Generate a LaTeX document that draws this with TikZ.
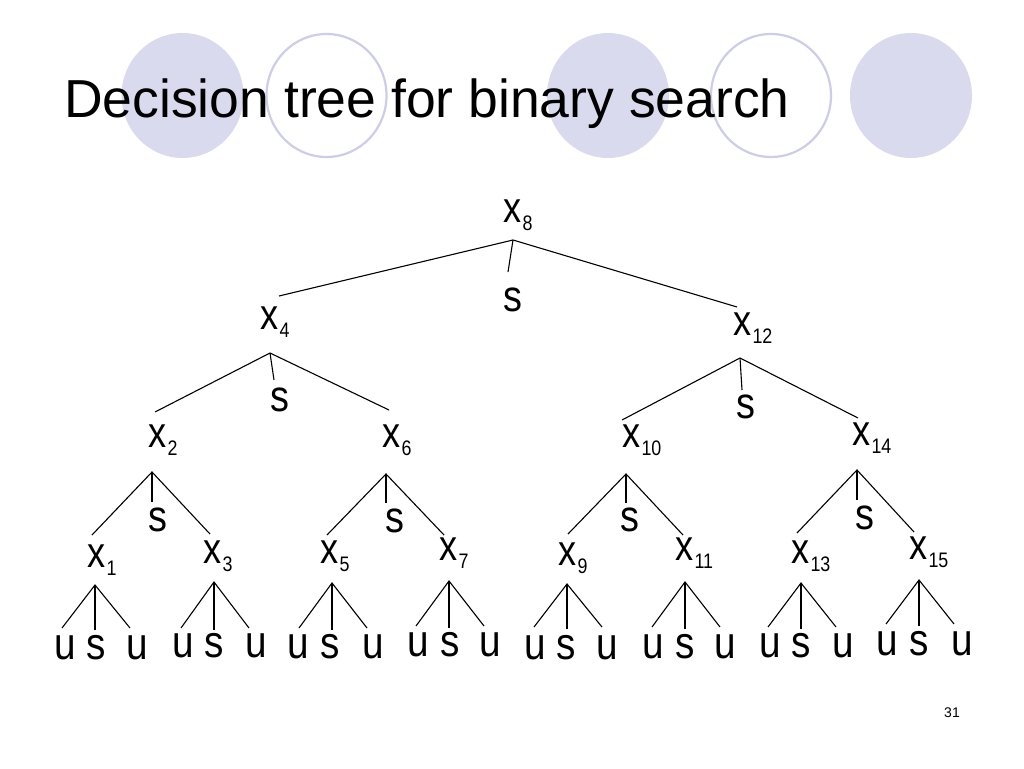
\documentclass[tikz,border=0pt]{standalone}
\usepackage{graphicx}
\usepackage{fontspec}
\setmainfont{Liberation Sans}
\definecolor{lav}{RGB}{218,218,238}
\definecolor{lavline}{RGB}{205,205,232}
\newcommand{\xsub}[1]{\scalebox{0.84}[1]{x}\rlap{\kern0.5pt\raisebox{-8pt}{\scalebox{0.85}[1]{\fontsize{21}{21}\selectfont #1}}}}
\newcommand{\nar}[1]{\scalebox{0.86}[1]{#1}}
\begin{document}
\begin{tikzpicture}[x=1pt,y=-1pt,
  xn/.style={inner sep=0pt,font=\fontsize{43}{43}\selectfont},
  sn/.style={inner sep=0pt,font=\fontsize{44}{44}\selectfont},
  ln/.style={inner sep=0pt,font=\fontsize{45}{45}\selectfont},
  edge/.style={line width=1.1pt,black},
  disc/.style={fill=lav,draw=none},
  ring/.style={fill=white,draw=lavline,line width=2.2pt}]
\useasboundingbox (0,0) rectangle (1024,768);
% decorative circles
\fill[disc] (182.5,95.5) ellipse [x radius=61,y radius=62.5];
\draw[ring] (326.5,95.5) ellipse [x radius=60,y radius=61.5];
\fill[disc] (608,95.5) ellipse [x radius=61,y radius=62.5];
\draw[ring] (771,95.5) ellipse [x radius=60,y radius=61.5];
\fill[disc] (911,95.5) ellipse [x radius=61,y radius=62.5];
% title
\node[anchor=base west,inner sep=0pt,font=\fontsize{53.5}{60}\selectfont] (title) at (64,117) {Decision tree for binary search};
% page number
\node[inner sep=0pt,font=\fontsize{14}{14}\selectfont] (pg) at (952,713) {31};

% ---------- nodes ----------
\node[xn] (x8) at (513,215) {\xsub{8}};
\node[sn] (s8) at (513,300) {\nar{s}};
\node[xn] (x4) at (270,322) {\xsub{4}};
\node[sn] (s4) at (280,400) {\nar{s}};
\node[xn] (x12) at (743,328) {\xsub{12}};
\node[sn] (s12) at (746,407) {\nar{s}};
\node[xn] (x2) at (158,440) {\xsub{2}};
\node[sn] (s2) at (158,520) {\nar{s}};
\node[xn] (x6) at (392,440) {\xsub{6}};
\node[sn] (s6) at (395,521) {\nar{s}};
\node[xn] (x10) at (632,440) {\xsub{10}};
\node[sn] (s10) at (630,520) {\nar{s}};
\node[xn] (x14) at (862,438) {\xsub{14}};
\node[sn] (s14) at (865,518) {\nar{s}};
\node[xn] (x1) at (97,560) {\xsub{1}};
\node[xn] (x3) at (213,556) {\xsub{3}};
\node[xn] (x5) at (330,556) {\xsub{5}};
\node[xn] (x7) at (449,553) {\xsub{7}};
\node[xn] (x9) at (568,558) {\xsub{9}};
\node[xn] (x11) at (685,553) {\xsub{11}};
\node[xn] (x13) at (801,556) {\xsub{13}};
\node[xn] (x15) at (919,552) {\xsub{15}};

% ---------- coordinates ----------
\coordinate (j8) at (513,240);
\coordinate (e8l) at (279,296); \coordinate (e8m) at (508,272); \coordinate (e8r) at (737,307);
\coordinate (j4) at (270,353);
\coordinate (e4l) at (155,412); \coordinate (e4m) at (274,380); \coordinate (e4r) at (389,410);
\coordinate (j12) at (740,358);
\coordinate (e12l) at (622,420); \coordinate (e12m) at (742,390); \coordinate (e12r) at (858,418);
\coordinate (j2) at (152,472);
\coordinate (e2l) at (92,535); \coordinate (e2m) at (152,502); \coordinate (e2r) at (210,534);
\coordinate (j6) at (386,474);
\coordinate (e6l) at (327,535); \coordinate (e6m) at (386,503); \coordinate (e6r) at (444,535);
\coordinate (j10) at (626,474);
\coordinate (e10l) at (568,534); \coordinate (e10m) at (626,503); \coordinate (e10r) at (683,535);
\coordinate (j14) at (857,470);
\coordinate (e14l) at (797,533); \coordinate (e14m) at (857,500); \coordinate (e14r) at (914,532);

\draw[edge] (e8l) -- (j8) -- (e8r); \draw[edge] (j8) -- (e8m);
\draw[edge] (e4l) -- (j4) -- (e4r); \draw[edge] (j4) -- (e4m);
\draw[edge] (e12l) -- (j12) -- (e12r); \draw[edge] (j12) -- (e12m);
\draw[edge] (e2l) -- (j2) -- (e2r); \draw[edge] (j2) -- (e2m);
\draw[edge] (e6l) -- (j6) -- (e6r); \draw[edge] (j6) -- (e6m);
\draw[edge] (e10l) -- (j10) -- (e10r); \draw[edge] (j10) -- (e10m);
\draw[edge] (e14l) -- (j14) -- (e14r); \draw[edge] (j14) -- (e14m);

% ---------- leaves ----------
\foreach \n/\jx/\jy/\ey/\ua/\sx/\ub/\ly in {
  1/95/585/628/65/96/137/648,
  3/214/582/628/183/214/256/646,
  5/332/583/628/298/330/373/647,
  7/449/581/626/418/450/490/645,
  9/567/584/627/535/566/607/648,
  11/685/582/627/653/685/725/647,
  13/801/583/627/770/801/843/646,
  15/919/580/624/887/919/962/644}{
  \coordinate (j\n) at (\jx,\jy);
  \coordinate (l\n a) at (\jx-33,\ey);
  \coordinate (l\n b) at (\jx,\ey+2);
  \coordinate (l\n c) at (\jx+35,\ey);
  \draw[edge] (l\n a) -- (j\n) -- (l\n c);
  \draw[edge] (j\n) -- (l\n b);
  \node[ln] (u\n a) at (\ua,\ly) {\nar{u}};
  \node[ln] (s\n b) at (\sx,\ly) {\nar{s}};
  \node[ln] (u\n c) at (\ub,\ly) {\nar{u}};
}
\end{tikzpicture}
\end{document}
